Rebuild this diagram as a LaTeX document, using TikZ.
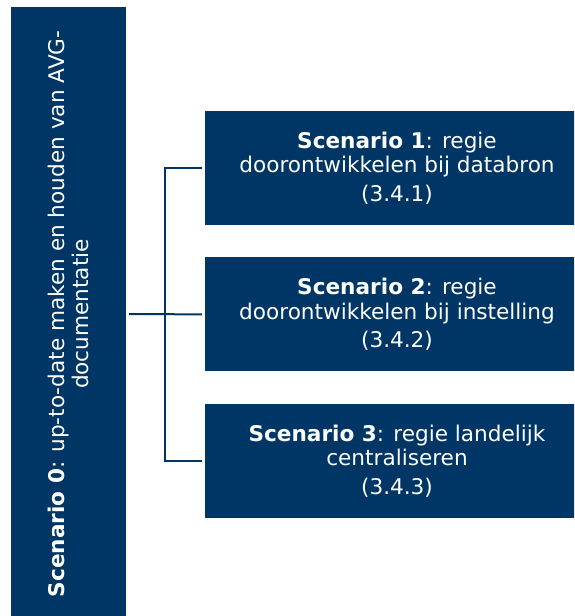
\documentclass[tikz,border=0pt]{standalone}
\usepackage{fontspec}
\setmainfont{DejaVu Sans}
\usetikzlibrary{positioning}
\definecolor{navy}{RGB}{0,54,101}

\begin{document}
\begin{tikzpicture}[x=1pt, y=-1pt]
	\tikzset{
		sidebox/.style={rectangle, fill=navy, text=white, minimum width=614pt, minimum height=115pt, inner sep=0pt, align=center, font=\fontsize{21.6}{24.5}\selectfont},
		scenbox/.style={rectangle, fill=navy, text=white, minimum width=384pt, minimum height=114pt, inner sep=0pt, align=center, font=\fontsize{21.6}{24.5}\selectfont},
		conn/.style={draw=navy, line width=1.5pt},
	}
	\useasboundingbox (0,0) rectangle (574,616);
	\begin{scope}
	\clip (0,0) rectangle (574,616);
	\node[sidebox, rotate=90] (s0) at (68.5,314) {\textbf{Scenario 0}: up-to-date maken en houden van AVG-\\documentatie};

	\node[scenbox] (s1) at (397,168) {\textbf{Scenario 1}: regie\\doorontwikkelen bij databron\\[4pt](3.4.1)};
	\node[scenbox, below = 32pt of s1] (s2) {\textbf{Scenario 2}: regie\\doorontwikkelen bij instelling\\[4pt](3.4.2)};
	\node[scenbox, below = 32pt of s2] (s3) {\textbf{Scenario 3}: regie landelijk\\centraliseren\\[4pt](3.4.3)};
	\end{scope}

	\coordinate (split) at (165,314);

	\draw[conn, line width=2pt, shorten <=3pt, shorten >=3pt] (s0.south) -- (s2.west);
	\draw[conn] ([xshift=-3pt]s1.west) -| (split) |- ([xshift=-3pt]s3.west);
\end{tikzpicture}
\end{document}
